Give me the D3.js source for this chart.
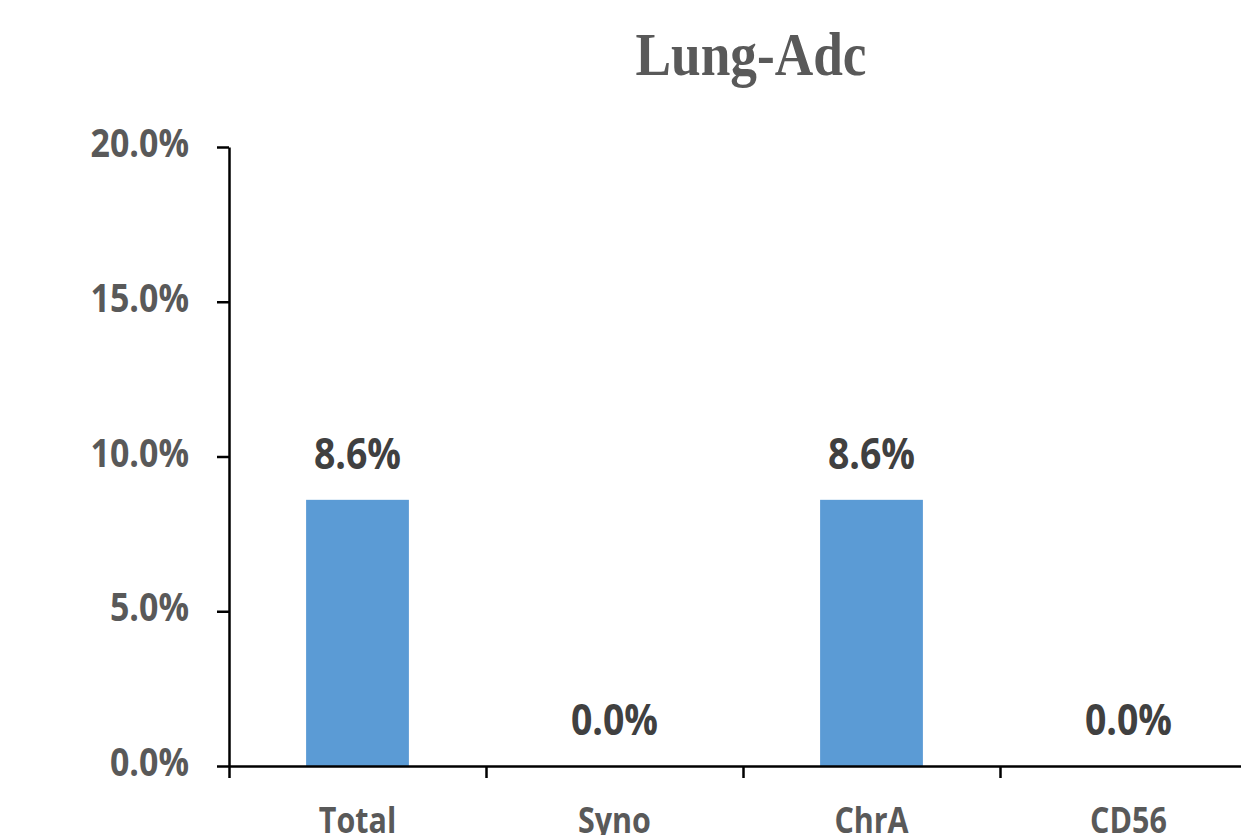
<!DOCTYPE html>
<html>
<head>
<meta charset="utf-8">
<script src="https://cdn.jsdelivr.net/npm/d3@7"></script>
<style>
  html, body { margin: 0; padding: 0; background: #fff; }
  svg { display: block; }
</style>
</head>
<body>
<svg id="chart" width="1241" height="835"></svg>
<script>
const title = "Lung-Adc";
const categories = ["Total", "Syno", "ChrA", "CD56"];
const values = [0.086, 0.0, 0.086, 0.0];
const yTicks = [0, 0.05, 0.10, 0.15, 0.20];

const svg = d3.select("#chart");
const plotLeft = 229, plotRight = 1257, plotTop = 147, plotBottom = 766;

const x = d3.scaleBand().domain(categories).range([plotLeft, plotRight])
  .paddingInner(0.6).paddingOuter(0.3);
const xEdge = d3.scaleLinear().domain([0, categories.length]).range([plotLeft, plotRight]);
const y = d3.scaleLinear().domain([0, 0.20]).range([plotBottom, plotTop]);

const pct = d3.format(".1%");

// Title
svg.append("g")
  .attr("transform", `translate(751,75) scale(0.86,1)`)
  .append("text")
  .attr("text-anchor", "middle")
  .attr("font-family", "'Liberation Serif', 'Times New Roman', serif")
  .attr("font-weight", "bold")
  .attr("font-size", 62)
  .attr("fill", "#595959")
  .text(title);

// Bars
svg.append("g").selectAll("rect")
  .data(categories)
  .join("rect")
  .attr("x", d => x(d))
  .attr("width", x.bandwidth())
  .attr("y", (d, i) => y(values[i]))
  .attr("height", (d, i) => y(0) - y(values[i]))
  .attr("fill", "#5B9BD5");

// Y axis
const yAxis = svg.append("g")
  .attr("transform", `translate(${plotLeft},0)`)
  .call(d3.axisLeft(y).tickValues(yTicks).tickSize(12).tickSizeOuter(0).tickFormat(""));
yAxis.selectAll("path, line").attr("stroke", "#000").attr("stroke-width", 2.5);

// Y tick labels
svg.append("g").selectAll("g")
  .data(yTicks)
  .join("g")
  .attr("transform", d => `translate(189,${y(d) + 10}) scale(0.87,1)`)
  .append("text")
  .attr("text-anchor", "end")
  .attr("font-family", "'Open Sans', sans-serif")
  .attr("font-weight", "bold")
  .attr("font-size", 39)
  .attr("fill", "#595959")
  .text(d => pct(d));

// X axis
const xAxis = svg.append("g")
  .attr("transform", `translate(0,${plotBottom})`)
  .call(d3.axisBottom(xEdge).tickValues(d3.range(categories.length + 1)).tickSize(12).tickSizeOuter(0).tickFormat(""));
xAxis.selectAll("path, line").attr("stroke", "#000").attr("stroke-width", 2.5);

// X labels
svg.append("g").selectAll("g")
  .data(categories)
  .join("g")
  .attr("transform", d => `translate(${x(d) + x.bandwidth() / 2},833) scale(0.87,1)`)
  .append("text")
  .attr("text-anchor", "middle")
  .attr("font-family", "'Open Sans', sans-serif")
  .attr("font-weight", "bold")
  .attr("font-size", 35)
  .attr("fill", "#595959")
  .text(d => d);

// Data labels
svg.append("g").selectAll("g")
  .data(categories)
  .join("g")
  .attr("transform", (d, i) => `translate(${x(d) + x.bandwidth() / 2},${y(values[i]) - 31}) scale(0.87,1)`)
  .append("text")
  .attr("text-anchor", "middle")
  .attr("font-family", "'Open Sans', sans-serif")
  .attr("font-weight", "bold")
  .attr("font-size", 43)
  .attr("fill", "#404040")
  .text((d, i) => pct(values[i]));
</script>
</body>
</html>
